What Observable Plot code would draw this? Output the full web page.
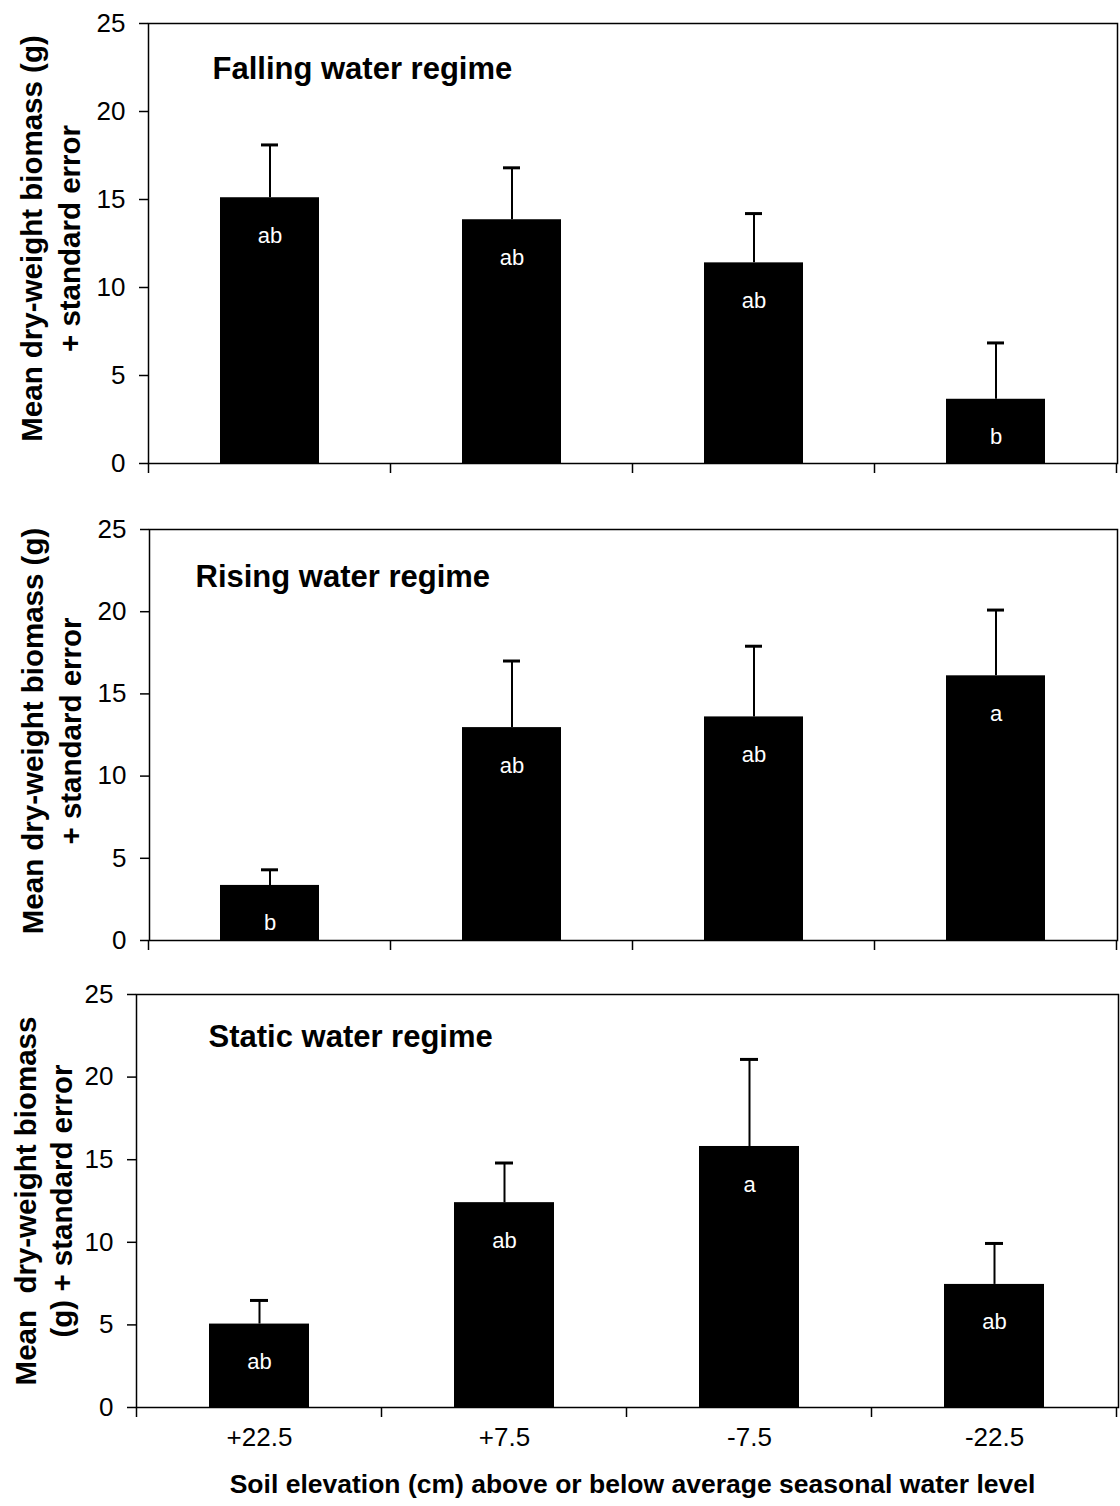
<!DOCTYPE html>
<html>
<head>
<meta charset="utf-8">
<script src="https://cdn.jsdelivr.net/npm/d3@7"></script>
<script src="https://cdn.jsdelivr.net/npm/@observablehq/plot@0.6"></script>
<style>
  html, body { margin: 0; padding: 0; background: #fff; }
  #wrap { position: relative; width: 1120px; height: 1506px; overflow: hidden; background: #fff; }
  .panel { position: absolute; left: 0; }
  svg { overflow: visible; }
</style>
</head>
<body>
<div id="wrap"></div>
<script>
// ---- data ----
const categories = ["+22.5", "+7.5", "-7.5", "-22.5"];

const fallingMean = [15.1, 13.85, 11.4, 3.65];
const fallingSE   = [3.0, 2.95, 2.8, 3.2];
const fallingLetters = ["ab", "ab", "ab", "b"];

const risingMean = [3.35, 12.95, 13.6, 16.1];
const risingSE   = [0.95, 4.05, 4.3, 4.0];
const risingLetters = ["b", "ab", "ab", "a"];

const staticMean = [5.05, 12.4, 15.8, 7.45];
const staticSE   = [1.43, 2.4, 5.27, 2.48];
const staticLetters = ["ab", "ab", "a", "ab"];

const yTicks = [0, 5, 10, 15, 20, 25];

const titles = ["Falling water regime", "Rising water regime", "Static water regime"];
const yLabels = [
  "Mean dry-weight biomass (g)\n+ standard error",
  "Mean dry-weight biomass (g)\n+ standard error",
  "Mean  dry-weight biomass\n(g) + standard error"
];
const xTitle = "Soil elevation (cm) above or below average seasonal water level";

const FONT = "'Liberation Sans', Arial, Helvetica, sans-serif";

function rows(means, ses, letters) {
  return categories.map((c, i) => ({cat: c, mean: means[i], se: ses[i], letter: letters[i]}));
}

// ticks at category boundaries (Excel-style "between categories")
function boundaryTicks() {
  return (index, scales, values, dims) => {
    const x = scales.x;
    const {width, height, marginLeft, marginRight, marginBottom} = dims;
    let bounds = [];
    if (x && typeof x.step === "function") {
      const step = x.step(), bw = x.bandwidth(), off = (step - bw) / 2;
      const dom = x.domain();
      bounds = dom.map(c => x(c) - off);
      bounds.push(x(dom[dom.length - 1]) + bw + off);
    } else {
      const w = (width - marginLeft - marginRight) / categories.length;
      for (let k = 0; k <= categories.length; k++) bounds.push(marginLeft + k * w);
    }
    const g = d3.create("svg:g").attr("stroke", "black").attr("stroke-width", 1.5);
    const y0 = height - marginBottom;
    for (const b of bounds) {
      g.append("line").attr("x1", b).attr("x2", b).attr("y1", y0).attr("y2", y0 + 10);
    }
    return g.node();
  };
}

function panel(cfg) {
  const data = rows(cfg.means, cfg.ses, cfg.letters);
  const marks = [
    Plot.barY(data, {x: "cat", y: "mean", fill: "black"}),
    Plot.ruleX(data, {x: "cat", y1: "mean", y2: d => d.mean + d.se, stroke: "black", strokeWidth: 2}),
    Plot.tickY(data, {x: "cat", y: d => d.mean + d.se, stroke: "black", strokeWidth: 3, insetLeft: 41, insetRight: 41}),
    Plot.text(data, {x: "cat", y: "mean", text: "letter", dy: 38, fill: "white", fontSize: 22, fontFamily: FONT, lineAnchor: "middle"}),
    Plot.frame({stroke: "black", strokeWidth: 1.5}),
    Plot.axisY({ticks: yTicks, tickSize: 9, tickPadding: 14, tickFormat: d3.format("d"), label: null, fontSize: 26, stroke: "black", strokeWidth: 1.5}),
    boundaryTicks(),
    Plot.text([cfg.title], {frameAnchor: "top-left", textAnchor: "start", lineAnchor: "middle", dx: cfg.titleDx, dy: cfg.titleDy, fontSize: 31, fontWeight: "bold", fontFamily: FONT, fill: "black"}),
    Plot.text([cfg.ylabel], {frameAnchor: "left", textAnchor: "middle", lineAnchor: "middle", rotate: -90, dx: cfg.ylabDx, dy: cfg.ylabDy, fontSize: 29.5, fontWeight: "bold", fontFamily: FONT, lineHeight: cfg.lineHeight, fill: "black"})
  ];
  if (cfg.showX) {
    marks.push(Plot.axisX({tickSize: 0, tickPadding: 20, label: null, fontSize: 26}));
    marks.push(Plot.text([xTitle], {frameAnchor: "bottom", textAnchor: "middle", lineAnchor: "middle", dx: 5, dy: 77, fontSize: 26.5, fontWeight: "bold", fontFamily: FONT, fill: "black"}));
  }
  const chart = Plot.plot({
    width: 1120,
    height: cfg.height,
    marginTop: cfg.mt,
    marginBottom: cfg.mb,
    marginLeft: cfg.ml,
    marginRight: cfg.mr,
    style: {fontFamily: FONT, fontSize: "26px", color: "black", background: "white", overflow: "visible"},
    x: {domain: categories, paddingInner: 0.59, paddingOuter: 0.295, axis: cfg.showX ? undefined : null},
    y: {domain: [0, 25]},
    marks
  });
  const div = document.createElement("div");
  div.className = "panel";
  div.style.top = cfg.top + "px";
  div.appendChild(chart);
  document.getElementById("wrap").appendChild(div);
}

panel({top: 0, height: 483, mt: 23, mb: 20, ml: 148, mr: 3,
  means: fallingMean, ses: fallingSE, letters: fallingLetters,
  title: titles[0], titleDx: 64, titleDy: 46,
  ylabel: yLabels[0], ylabDx: -100, ylabDy: -5, lineHeight: 1.32, showX: false});

panel({top: 500, height: 460, mt: 29, mb: 20, ml: 149, mr: 3,
  means: risingMean, ses: risingSE, letters: risingLetters,
  title: titles[1], titleDx: 46, titleDy: 48,
  ylabel: yLabels[1], ylabDx: -100, ylabDy: -4, lineHeight: 1.3, showX: false});

panel({top: 970, height: 536, mt: 24, mb: 99, ml: 136, mr: 2,
  means: staticMean, ses: staticSE, letters: staticLetters,
  title: titles[2], titleDx: 72, titleDy: 43,
  ylabel: yLabels[2], ylabDx: -94, ylabDy: 0, lineHeight: 1.2, showX: true});
</script>
</body>
</html>
